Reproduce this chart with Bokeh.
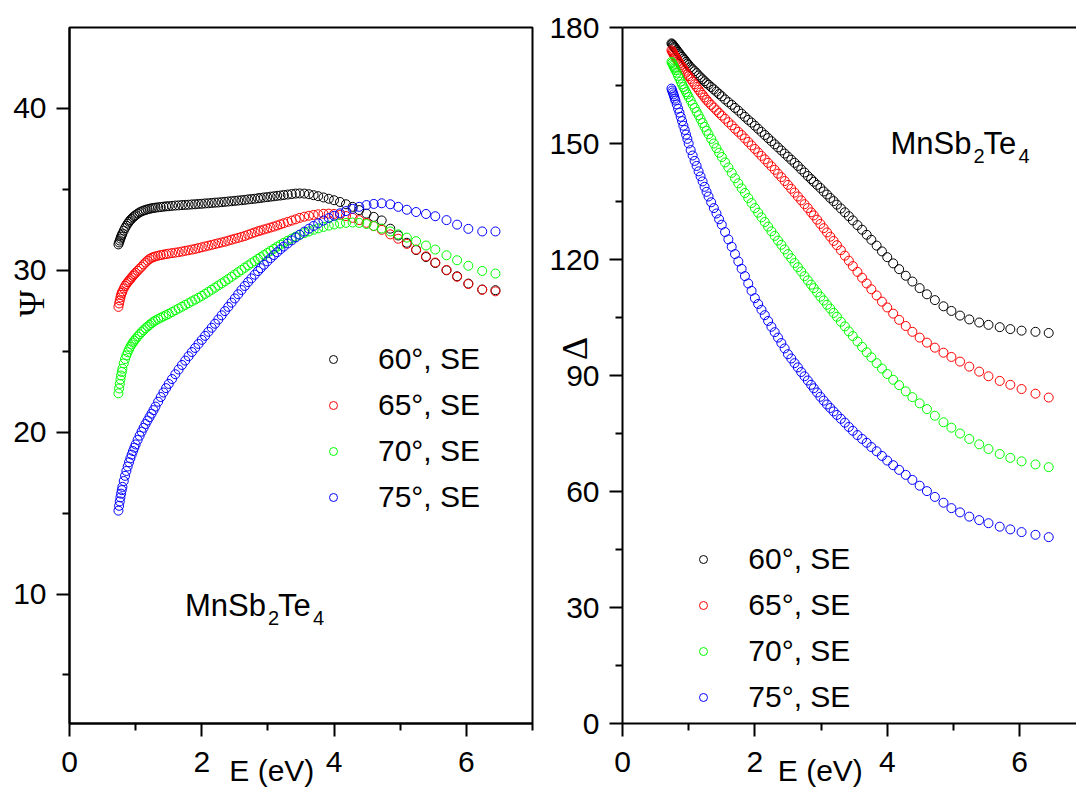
from bokeh.embed import file_html
from bokeh.layouts import row
from bokeh.models import FixedTicker, Label, Legend, LegendItem, LinearAxis, Range1d
from bokeh.plotting import figure
from bokeh.resources import INLINE

# Photon energy grid (eV), shared by all spectra
energy = [
    0.74, 0.75, 0.76, 0.77, 0.78, 0.79, 0.80, 0.82, 0.84, 0.86, 0.88, 0.90,
    0.92, 0.94, 0.96, 0.98, 1.00, 1.03, 1.06, 1.09, 1.12, 1.15, 1.18, 1.21,
    1.24, 1.27, 1.30, 1.34, 1.38, 1.42, 1.46, 1.50, 1.55, 1.60, 1.65, 1.70,
    1.75, 1.80, 1.85, 1.90, 1.95, 2.00, 2.05, 2.10, 2.15, 2.20, 2.25, 2.30,
    2.35, 2.40, 2.45, 2.50, 2.55, 2.60, 2.65, 2.70, 2.75, 2.80, 2.85, 2.89,
    2.94, 2.99, 3.04, 3.09, 3.14, 3.19, 3.24, 3.30, 3.36, 3.42, 3.48, 3.55,
    3.62, 3.69, 3.76, 3.84, 3.92, 4.00, 4.09, 4.18, 4.28, 4.38, 4.49, 4.60,
    4.72, 4.85, 4.97, 5.10, 5.24, 5.39, 5.53, 5.70, 5.86, 6.03, 6.24, 6.44,
]

# Psi (deg) at incidence angles 60, 65, 70, 75 deg
psi_60 = [
    31.60, 31.72, 31.84, 31.96, 32.07, 32.17, 32.27, 32.45, 32.61, 32.75, 32.88, 33.00,
    33.10, 33.19, 33.27, 33.34, 33.41, 33.50, 33.58, 33.64, 33.69, 33.73, 33.77, 33.80,
    33.83, 33.85, 33.87, 33.89, 33.91, 33.93, 33.95, 33.96, 33.98, 34.00, 34.01, 34.03,
    34.04, 34.05, 34.07, 34.08, 34.10, 34.11, 34.13, 34.14, 34.16, 34.18, 34.19, 34.21,
    34.23, 34.25, 34.27, 34.29, 34.31, 34.33, 34.35, 34.38, 34.40, 34.42, 34.45, 34.47,
    34.50, 34.52, 34.55, 34.57, 34.60, 34.62, 34.65, 34.68, 34.71, 34.74, 34.75, 34.74,
    34.70, 34.64, 34.58, 34.50, 34.42, 34.33, 34.22, 34.08, 33.92, 33.72, 33.50, 33.30,
    33.08, 32.57, 32.15, 31.70, 31.25, 30.82, 30.45, 30.00, 29.63, 29.18, 28.81, 28.77,
]
psi_65 = [
    27.74, 27.95, 28.14, 28.32, 28.48, 28.60, 28.70, 28.88, 29.03, 29.15, 29.26, 29.36,
    29.46, 29.56, 29.66, 29.75, 29.84, 29.97, 30.10, 30.22, 30.36, 30.48, 30.60, 30.70,
    30.77, 30.82, 30.86, 30.90, 30.94, 30.97, 31.00, 31.03, 31.06, 31.09, 31.12, 31.16,
    31.20, 31.24, 31.28, 31.32, 31.37, 31.42, 31.47, 31.52, 31.57, 31.62, 31.67, 31.72,
    31.77, 31.83, 31.89, 31.95, 32.00, 32.06, 32.12, 32.20, 32.27, 32.34, 32.41, 32.46,
    32.52, 32.58, 32.64, 32.70, 32.77, 32.84, 32.91, 32.99, 33.07, 33.15, 33.24, 33.31,
    33.37, 33.42, 33.46, 33.49, 33.50, 33.48, 33.43, 33.35, 33.24, 33.10, 32.93, 32.73,
    32.50, 32.22, 31.95, 31.63, 31.28, 30.86, 30.48, 30.02, 29.60, 29.15, 28.80, 28.70,
]
psi_70 = [
    22.40, 22.70, 22.98, 23.25, 23.50, 23.72, 23.92, 24.25, 24.52, 24.74, 24.94, 25.12,
    25.28, 25.42, 25.54, 25.65, 25.76, 25.91, 26.05, 26.18, 26.30, 26.42, 26.53, 26.63,
    26.73, 26.82, 26.90, 26.99, 27.07, 27.15, 27.23, 27.31, 27.42, 27.53, 27.64, 27.75,
    27.86, 27.97, 28.08, 28.19, 28.30, 28.42, 28.54, 28.67, 28.80, 28.93, 29.06, 29.19,
    29.32, 29.46, 29.60, 29.74, 29.88, 30.02, 30.16, 30.30, 30.44, 30.57, 30.70, 30.81,
    30.94, 31.07, 31.20, 31.33, 31.46, 31.58, 31.70, 31.83, 31.96, 32.08, 32.19, 32.30,
    32.40, 32.50, 32.59, 32.68, 32.76, 32.83, 32.89, 32.93, 32.95, 32.93, 32.86, 32.74,
    32.58, 32.40, 32.22, 32.02, 31.80, 31.53, 31.28, 30.93, 30.62, 30.28, 29.96, 29.80,
]
psi_75 = [
    15.15, 15.45, 15.72, 15.97, 16.20, 16.42, 16.62, 16.98, 17.30, 17.60, 17.88, 18.14,
    18.38, 18.61, 18.83, 19.04, 19.24, 19.52, 19.78, 20.03, 20.27, 20.50, 20.72, 20.93,
    21.14, 21.36, 21.58, 21.88, 22.17, 22.45, 22.72, 22.98, 23.28, 23.58, 23.87, 24.15,
    24.42, 24.69, 24.95, 25.20, 25.45, 25.70, 25.95, 26.20, 26.45, 26.70, 26.96, 27.22,
    27.48, 27.74, 28.00, 28.26, 28.52, 28.78, 29.03, 29.27, 29.50, 29.73, 29.95, 30.13,
    30.34, 30.55, 30.75, 30.94, 31.12, 31.30, 31.47, 31.66, 31.85, 32.03, 32.20, 32.39,
    32.57, 32.74, 32.90, 33.07, 33.23, 33.37, 33.52, 33.66, 33.80, 33.92, 34.03, 34.10,
    34.14, 34.08, 33.92, 33.74, 33.60, 33.48, 33.34, 33.10, 32.82, 32.56, 32.40, 32.40,
]

# Delta (deg) at the same incidence angles
delta_60 = [
    175.9, 175.7, 175.5, 175.3, 175.0, 174.8, 174.6, 174.2, 173.7, 173.3, 172.8, 172.4,
    172.0, 171.6, 171.1, 170.7, 170.3, 169.7, 169.2, 168.7, 168.2, 167.6, 167.1, 166.6,
    166.1, 165.6, 165.2, 164.6, 164.0, 163.4, 162.8, 162.2, 161.4, 160.7, 160.0, 159.2,
    158.5, 157.7, 156.9, 156.1, 155.4, 154.6, 153.8, 153.0, 152.2, 151.4, 150.6, 149.8,
    149.0, 148.2, 147.4, 146.6, 145.8, 145.0, 144.2, 143.3, 142.5, 141.6, 140.8, 140.1,
    139.3, 138.5, 137.6, 136.8, 135.9, 135.1, 134.2, 133.2, 132.2, 131.2, 130.1, 128.9,
    127.7, 126.4, 125.1, 123.6, 122.1, 120.6, 119.0, 117.5, 115.8, 114.3, 112.6, 111.0,
    109.5, 107.9, 106.7, 105.5, 104.5, 103.7, 103.1, 102.5, 102.0, 101.6, 101.3, 101.0,
]
delta_65 = [
    174.1, 173.8, 173.5, 173.2, 172.9, 172.6, 172.4, 171.9, 171.3, 170.8, 170.3, 169.8,
    169.3, 168.8, 168.3, 167.8, 167.4, 166.7, 166.0, 165.3, 164.6, 163.9, 163.2, 162.6,
    161.9, 161.3, 160.7, 160.0, 159.3, 158.6, 157.9, 157.2, 156.4, 155.5, 154.7, 153.8,
    153.0, 152.2, 151.3, 150.4, 149.5, 148.6, 147.7, 146.8, 145.9, 145.0, 144.1, 143.2,
    142.2, 141.3, 140.3, 139.3, 138.3, 137.3, 136.3, 135.3, 134.3, 133.3, 132.2, 131.4,
    130.3, 129.2, 128.1, 127.0, 125.9, 124.8, 123.7, 122.4, 121.0, 119.7, 118.3, 116.8,
    115.3, 113.8, 112.3, 110.7, 109.1, 107.6, 106.0, 104.4, 102.8, 101.3, 99.8, 98.5,
    97.2, 95.9, 94.8, 93.6, 92.3, 91.0, 89.8, 88.6, 87.6, 86.5, 85.3, 84.3,
]
delta_70 = [
    171.1, 170.8, 170.4, 170.1, 169.7, 169.4, 169.0, 168.3, 167.5, 166.8, 166.0, 165.3,
    164.6, 164.0, 163.3, 162.7, 162.0, 161.1, 160.1, 159.2, 158.2, 157.3, 156.3, 155.3,
    154.3, 153.3, 152.4, 151.2, 150.0, 148.8, 147.6, 146.5, 145.1, 143.8, 142.4, 141.0,
    139.7, 138.4, 137.2, 135.9, 134.6, 133.3, 132.1, 130.9, 129.7, 128.5, 127.3, 126.1,
    124.9, 123.8, 122.6, 121.4, 120.3, 119.1, 118.0, 116.9, 115.7, 114.6, 113.5, 112.6,
    111.5, 110.4, 109.4, 108.3, 107.3, 106.2, 105.2, 103.9, 102.7, 101.4, 100.2, 98.8,
    97.4, 96.0, 94.7, 93.2, 91.8, 90.4, 88.9, 87.5, 85.9, 84.4, 82.8, 81.3,
    79.6, 77.9, 76.5, 75.0, 73.6, 72.2, 71.0, 69.7, 68.7, 67.8, 67.0, 66.3,
]
delta_75 = [
    164.2, 163.7, 163.2, 162.7, 162.2, 161.6, 161.1, 160.1, 159.0, 158.0, 156.9, 155.8,
    154.6, 153.5, 152.3, 151.2, 150.0, 148.3, 146.9, 145.5, 144.2, 142.8, 141.5, 140.2,
    138.8, 137.5, 136.3, 134.8, 133.3, 131.9, 130.4, 129.0, 127.1, 125.2, 123.3, 121.4,
    119.5, 117.6, 115.7, 113.8, 111.9, 110.0, 108.5, 107.0, 105.6, 104.1, 102.6, 101.2,
    99.8, 98.4, 97.0, 95.5, 94.4, 93.2, 92.1, 90.9, 89.8, 88.7, 87.6, 86.7,
    85.6, 84.5, 83.5, 82.5, 81.6, 80.7, 79.8, 78.8, 77.8, 76.7, 75.7, 74.6,
    73.6, 72.6, 71.5, 70.4, 69.2, 68.0, 66.8, 65.6, 64.3, 63.0, 61.5, 60.1,
    58.6, 57.1, 55.7, 54.6, 53.5, 52.6, 51.8, 50.9, 50.2, 49.5, 48.8, 48.2,
]

series_labels = ["60°, SE", "65°, SE", "70°, SE", "75°, SE"]
series_colors = ["#000000", "#ff0000", "#00ff00", "#0000ff"]

psi_ticks = [10, 20, 30, 40]
psi_minor = [5, 15, 25, 35]
delta_ticks = [0, 30, 60, 90, 120, 150, 180]
delta_minor = [15, 45, 75, 105, 135, 165]
e_ticks = [0, 2, 4, 6]
e_minor = [1, 3, 5, 7]

SANS = "Liberation Sans"
SERIF = "Liberation Serif"
TICK_SIZE = "30px"
NBSP = "\u00a0"


def style_axis(ax, standoff):
    ax.axis_line_width = 2
    ax.axis_line_color = "black"
    ax.major_tick_line_width = 2
    ax.minor_tick_line_width = 2
    ax.major_tick_line_color = "black"
    ax.minor_tick_line_color = "black"
    ax.major_tick_out = 13
    ax.major_tick_in = 0
    ax.minor_tick_out = 7
    ax.minor_tick_in = 0
    ax.major_label_text_font = SANS
    ax.major_label_text_font_size = TICK_SIZE
    ax.major_label_text_color = "black"
    ax.major_label_standoff = standoff
    ax.axis_label_text_font_style = "normal"
    ax.axis_label_text_color = "black"


def make_panel(width, border_left, border_right, x_end, y_range, y_ticks, y_minor):
    p = figure(
        width=width, height=789,
        x_range=Range1d(0, x_end), y_range=y_range,
        output_backend="svg", toolbar_location=None,
        min_border_left=border_left, min_border_right=border_right,
        min_border_top=27, min_border_bottom=64,
        background_fill_color="white", border_fill_color="white",
    )
    p.xgrid.visible = False
    p.ygrid.visible = False
    p.xaxis.ticker = FixedTicker(ticks=e_ticks, minor_ticks=e_minor)
    p.yaxis.ticker = FixedTicker(ticks=y_ticks, minor_ticks=y_minor)
    style_axis(p.xaxis[0], 15)
    style_axis(p.yaxis[0], 10)
    # energy axis title, tucked in between the tick labels
    xa = p.xaxis[0]
    xa.axis_label = "E (eV)" + NBSP * 7
    xa.axis_label_text_font = SANS
    xa.axis_label_text_font_size = "30px"
    xa.axis_label_standoff = -21
    return p


def add_series(p, ys_list):
    rs = []
    for ys, color in zip(ys_list, series_colors):
        r = p.scatter(energy, ys, marker="circle", size=9,
                      fill_color=None, line_color=color, line_width=1)
        rs.append(r)
    return rs


def add_legend(p, renderers, loc):
    items = [LegendItem(label=lab, renderers=[r]) for lab, r in zip(series_labels, renderers)]
    leg = Legend(
        items=items, location=loc,
        glyph_width=20, glyph_height=46, label_height=46,
        label_standoff=35, spacing=0, padding=0, margin=0,
        border_line_color=None, background_fill_alpha=0,
        label_text_font=SANS, label_text_font_size="30px", label_text_color="black",
    )
    p.add_layout(leg)


def add_formula(p, x0, y0):
    # MnSb2Te4 with lowered subscripts
    pieces = [("MnSb", 0, 0, "31px"), ("2", 83, -12.6, "20px"),
              ("Te", 93, 0, "31px"), ("4", 128, -12.6, "20px")]
    for txt, dx, dy, fs in pieces:
        p.add_layout(Label(x=x0 + dx, y=y0 + dy, x_units="screen", y_units="screen",
                           text=txt, text_font=SANS, text_font_size=fs,
                           text_color="black", text_align="left",
                           text_baseline="alphabetic"))


# Left panel: Psi
p1 = make_panel(548, 69, 16, 7, Range1d(2, 45), psi_ticks, psi_minor)
p1.outline_line_color = "black"
p1.outline_line_width = 2
ya1 = p1.yaxis[0]
ya1.axis_label = NBSP * 16 + "Ψ"
ya1.axis_label_text_font = SERIF
ya1.axis_label_text_font_size = "36px"
ya1.axis_label_standoff = -42
r1 = add_series(p1, [psi_60, psi_65, psi_70, psi_75])
add_legend(p1, r1, (254, 203))
add_formula(p1, 115.5, 118.3)

# Right panel: Delta
p2 = make_panel(528, 74, 0, 6.86, Range1d(0, 180), delta_ticks, delta_minor)
p2.outline_line_color = None
top_axis = LinearAxis(ticker=FixedTicker(ticks=[]), axis_line_width=2, axis_line_color="black",
                      major_tick_out=0, minor_tick_out=0, major_label_text_font_size="0px")
p2.add_layout(top_axis, "above")
ya2 = p2.yaxis[0]
ya2.axis_label = NBSP * 6 + "Δ"
ya2.axis_label_text_font = SERIF
ya2.axis_label_text_font_size = "36px"
ya2.axis_label_standoff = -49
r2 = add_series(p2, [delta_60, delta_65, delta_70, delta_75])
add_legend(p2, r2, (71.3, 2.7))
add_formula(p2, 268, 580.5)

layout = row(p1, p2)
open("out.html", "w").write(file_html(layout, INLINE))
